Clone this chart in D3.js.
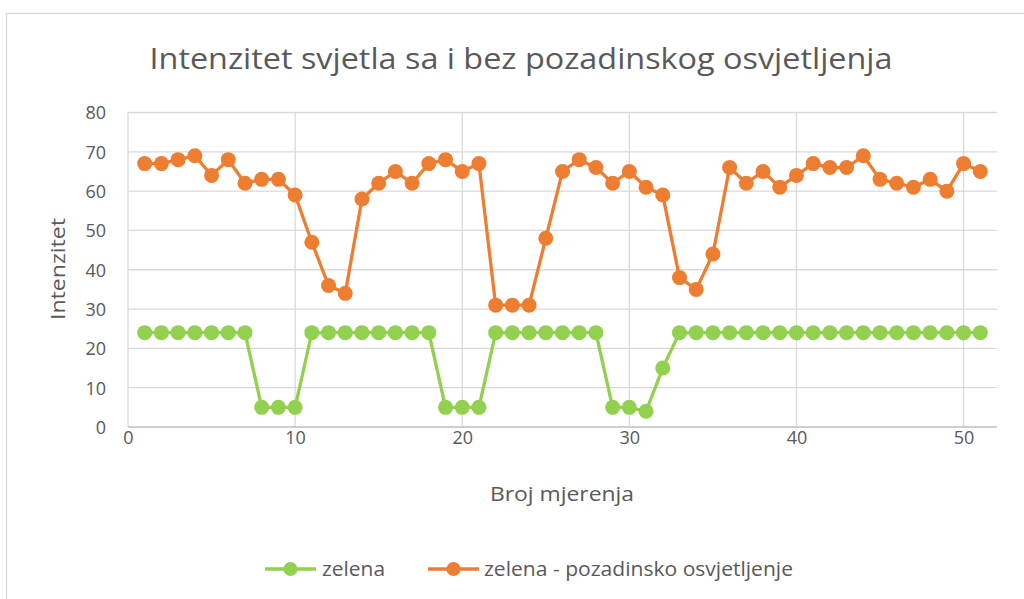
<!DOCTYPE html>
<html>
<head>
<meta charset="utf-8">
<script src="https://cdn.jsdelivr.net/npm/d3@7"></script>
<style>
  html, body { margin: 0; padding: 0; background: #ffffff; }
  svg { display: block; }
</style>
</head>
<body>
<script>
// ---- data ----
const measurements = d3.range(1, 52); // 1..51
const zelena = [24,24,24,24,24,24,24,5,5,5,
                24,24,24,24,24,24,24,24,5,5,
                5,24,24,24,24,24,24,24,5,5,
                4,15,24,24,24,24,24,24,24,24,
                24,24,24,24,24,24,24,24,24,24,24];
const zelenaPozadinsko = [67,67,68,69,64,68,62,63,63,59,
                          47,36,34,58,62,65,62,67,68,65,
                          67,31,31,31,48,65,68,66,62,65,
                          61,59,38,35,44,66,62,65,61,64,
                          67,66,66,69,63,62,61,63,60,67,65];
const xTicks = [0, 10, 20, 30, 40, 50];
const yTicks = [0, 10, 20, 30, 40, 50, 60, 70, 80];
const seriesNames = ["zelena", "zelena - pozadinsko osvjetljenje"];
const seriesColors = ["#92D050", "#ED7D31"];
const titleText = "Intenzitet svjetla sa i bez pozadinskog osvjetljenja";
const xTitle = "Broj mjerenja";
const yTitle = "Intenzitet";

// ---- layout ----
const W = 1024, H = 599;
const font = "'Open Sans', 'Liberation Sans', sans-serif";
const textColor = "#595959";

const svg = d3.select("body").append("svg").attr("width", W).attr("height", H);

// chart border
svg.append("rect").attr("x", 6.5).attr("y", 13.5).attr("width", W + 10).attr("height", H + 10)
  .attr("fill", "#fff").attr("stroke", "#d9d9d9").attr("stroke-width", 1.3);

const x = d3.scaleLinear().domain([0, 52]).range([128, 997]);
const y = d3.scaleLinear().domain([0, 80]).range([427, 112.5]);

// gridlines
const grid = svg.append("g");
grid.selectAll("line.h").data(yTicks.filter(d => d > 0)).join("line")
  .attr("x1", x(0)).attr("x2", x(52))
  .attr("y1", d => y(d)).attr("y2", d => y(d))
  .attr("stroke", "#d9d9d9").attr("stroke-width", 1.3);
grid.selectAll("line.v").data(xTicks).join("line")
  .attr("x1", d => x(d)).attr("x2", d => x(d))
  .attr("y1", y(0)).attr("y2", y(80))
  .attr("stroke", "#d9d9d9").attr("stroke-width", 1.3);
// bottom axis line
svg.append("line").attr("x1", x(0)).attr("x2", x(52)).attr("y1", y(0)).attr("y2", y(0))
  .attr("stroke", "#bfbfbf").attr("stroke-width", 1.5);

// axes via d3 (labels only)
const xAxis = d3.axisBottom(x).tickValues(xTicks).tickSize(0).tickPadding(0);
const gx = svg.append("g").attr("transform", `translate(0,${y(0)})`).call(xAxis);
gx.select(".domain").remove();
gx.selectAll("text").attr("y", 17).attr("dy", 0)
  .attr("font-family", font).attr("font-size", 18).attr("fill", textColor);

const yAxis = d3.axisLeft(y).tickValues(yTicks).tickSize(0).tickPadding(0);
const gy = svg.append("g").attr("transform", `translate(106,0)`).call(yAxis);
gy.select(".domain").remove();
gy.selectAll("text").attr("x", 0).attr("dy", "0.36em")
  .attr("font-family", font).attr("font-size", 18).attr("fill", textColor);

// title
svg.append("text").attr("x", 521).attr("y", 69).attr("text-anchor", "middle")
  .attr("font-family", font).attr("font-size", 29).attr("fill", textColor)
  .attr("textLength", 743).attr("lengthAdjust", "spacingAndGlyphs")
  .text(titleText);

// axis titles
svg.append("text").attr("x", 562).attr("y", 501).attr("text-anchor", "middle")
  .attr("font-family", font).attr("font-size", 20).attr("fill", textColor)
  .attr("textLength", 144).attr("lengthAdjust", "spacingAndGlyphs")
  .text(xTitle);
svg.append("text").attr("transform", "translate(65,269) rotate(-90)").attr("text-anchor", "middle")
  .attr("font-family", font).attr("font-size", 20).attr("fill", textColor)
  .attr("textLength", 102).attr("lengthAdjust", "spacingAndGlyphs")
  .text(yTitle);

// series
const allSeries = [zelena, zelenaPozadinsko];
const line = d3.line().x(d => x(d[0])).y(d => y(d[1]));
allSeries.forEach((vals, i) => {
  const pts = measurements.map((m, k) => [m, vals[k]]);
  const g = svg.append("g");
  g.append("path").datum(pts).attr("d", line)
    .attr("fill", "none").attr("stroke", seriesColors[i]).attr("stroke-width", 3.3)
    .attr("stroke-linejoin", "round");
  g.selectAll("circle").data(pts).join("circle")
    .attr("cx", d => x(d[0])).attr("cy", d => y(d[1])).attr("r", 7.5)
    .attr("fill", seriesColors[i]);
});

// legend
const legendItems = [
  { lx: 265, tx: 322, tw: 63 },
  { lx: 428, tx: 484, tw: 309 }
];
const ly = 569;
legendItems.forEach((it, i) => {
  svg.append("line").attr("x1", it.lx).attr("x2", it.lx + 51).attr("y1", ly).attr("y2", ly)
    .attr("stroke", seriesColors[i]).attr("stroke-width", 3.3);
  svg.append("circle").attr("cx", it.lx + 25.5).attr("cy", ly).attr("r", 7)
    .attr("fill", seriesColors[i]);
  svg.append("text").attr("x", it.tx).attr("y", ly + 7)
    .attr("font-family", font).attr("font-size", 20).attr("fill", textColor)
    .attr("textLength", it.tw).attr("lengthAdjust", "spacingAndGlyphs")
    .text(seriesNames[i]);
});
</script>
</body>
</html>
